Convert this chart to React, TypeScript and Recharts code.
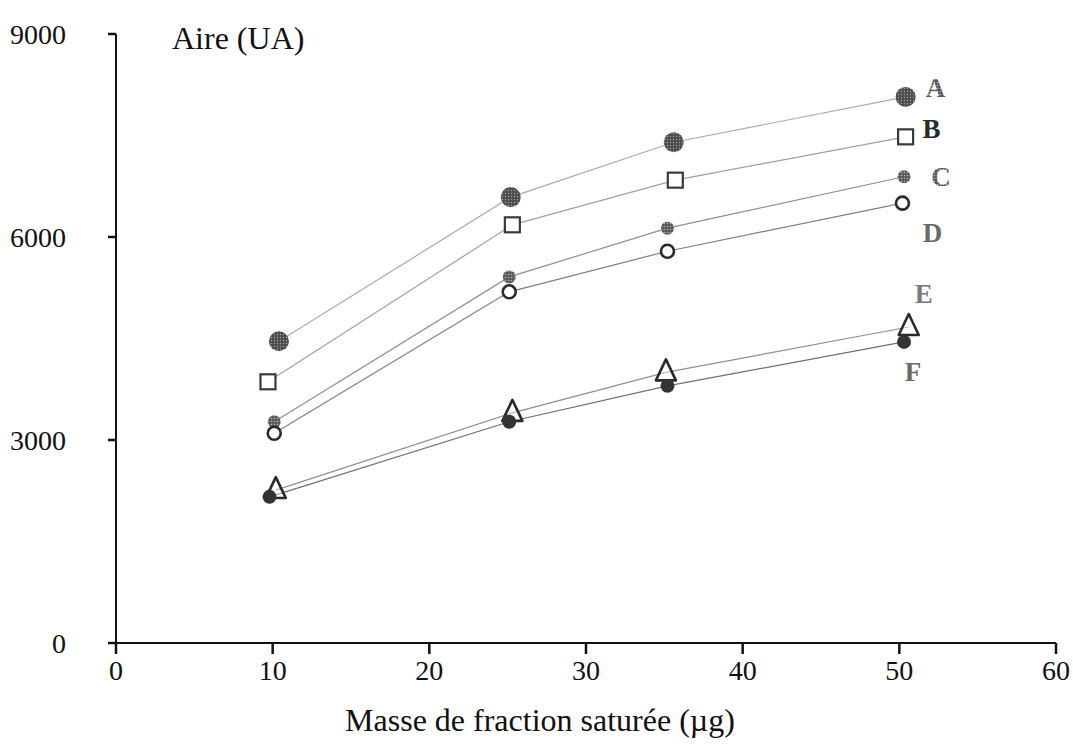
import React from "react";
import { LineChart, Line, XAxis, YAxis } from "recharts";

const xTicks = [0, 10, 20, 30, 40, 50, 60];
const yTicks = [0, 3000, 6000, 9000];

const xA = [10.4, 25.2, 35.6, 50.4];
const yA = [4460, 6590, 7400, 8070];
const xB = [9.7, 25.3, 35.7, 50.4];
const yB = [3860, 6180, 6840, 7480];
const xC = [10.1, 25.1, 35.2, 50.3];
const yC = [3270, 5410, 6130, 6890];
const xD = [10.1, 25.1, 35.2, 50.2];
const yD = [3100, 5190, 5790, 6500];
const xE = [10.2, 25.3, 35.1, 50.6];
const yE = [2260, 3400, 4000, 4670];
const xF = [9.8, 25.1, 35.2, 50.3];
const yF = [2160, 3270, 3800, 4450];

const seriesLetters = ["A", "B", "C", "D", "E", "F"];

const toData = (xs: number[], ys: number[]) => xs.map((x, i) => ({ x, y: ys[i] }));

const FONT = "'Liberation Serif', 'Times New Roman', serif";

type Style = {
  shape: string;
  line: string;
  labelColor: string;
  ldx: number;
  ldy: number;
};

const styles: Style[] = [
  { shape: "bigStipple", line: "#ababab", labelColor: "url(#stipLabel)", ldx: 30, ldy: -9 },
  { shape: "square", line: "#a0a0a0", labelColor: "#2a2a2a", ldx: 26, ldy: -8 },
  { shape: "smallStipple", line: "#909090", labelColor: "url(#stipLabel)", ldx: 37, ldy: 0 },
  { shape: "openCircle", line: "#808080", labelColor: "#6a6a6a", ldx: 30, ldy: 30 },
  { shape: "triangle", line: "#909090", labelColor: "#7a7a7a", ldx: 15, ldy: -33 },
  { shape: "filled", line: "#707070", labelColor: "#6a6a6a", ldx: 9, ldy: 30 },
];

const makeDot = (st: Style, letter: string, n: number) => (props: any) => {
  const { cx, cy, index } = props;
  if (cx == null || cy == null) return <g key={`d${letter}${index}`} />;
  let mark: React.ReactNode = null;
  switch (st.shape) {
    case "bigStipple":
      mark = <circle cx={cx} cy={cy} r={10} fill="url(#stipDark)" />;
      break;
    case "square":
      mark = <rect x={cx - 7.5} y={cy - 7.5} width={15} height={15} fill="#fff" stroke="#3a3a3a" strokeWidth={2.2} />;
      break;
    case "smallStipple":
      mark = <circle cx={cx} cy={cy} r={6.5} fill="url(#stipMid)" />;
      break;
    case "openCircle":
      mark = <circle cx={cx} cy={cy} r={6.5} fill="#fff" stroke="#2a2a2a" strokeWidth={2.6} />;
      break;
    case "triangle":
      mark = (
        <polygon
          points={`${cx},${cy - 13} ${cx - 10},${cy + 8} ${cx + 10},${cy + 8}`}
          fill="#fff"
          fillOpacity={0.4}
          stroke="#2a2a2a"
          strokeWidth={2.6}
          strokeLinejoin="round"
        />
      );
      break;
    default:
      mark = <circle cx={cx} cy={cy} r={7} fill="#333" />;
  }
  return (
    <g key={`d${letter}${index}`}>
      {mark}
      {index === n - 1 ? (
        <text
          x={cx + st.ldx}
          y={cy + st.ldy}
          textAnchor="middle"
          dominantBaseline="central"
          fontFamily={FONT}
          fontWeight="bold"
          fontSize={27}
          fill={st.labelColor}
        >
          {letter}
        </text>
      ) : null}
    </g>
  );
};

const allSeries = [
  toData(xA, yA),
  toData(xB, yB),
  toData(xC, yC),
  toData(xD, yD),
  toData(xE, yE),
  toData(xF, yF),
];

const YTitle = (props: any) => {
  const vb = props.viewBox || { x: 0, y: 0, width: 0 };
  return (
    <text
      x={vb.x + vb.width + 56}
      y={vb.y + 15}
      fontFamily={FONT}
      fontSize={32}
      fill="#111"
    >
      Aire (UA)
    </text>
  );
};

export default function App() {
  return (
    <div style={{ position: "absolute", left: 0, top: 0, background: "#fff" }}>
      <LineChart
        width={1073}
        height={751}
        margin={{ top: 34, right: 17, bottom: 0, left: 0 }}
      >
        <defs>
          <pattern id="stipDark" width="3" height="3" patternUnits="userSpaceOnUse">
            <rect width="3" height="3" fill="#4d4d4d" />
            <circle cx="1.5" cy="1.5" r="0.7" fill="#a0a0a0" />
          </pattern>
          <pattern id="stipMid" width="3" height="3" patternUnits="userSpaceOnUse">
            <rect width="3" height="3" fill="#5a5a5a" />
            <circle cx="1.5" cy="1.5" r="0.8" fill="#b0b0b0" />
          </pattern>
          <pattern id="stipLabel" width="3" height="3" patternUnits="userSpaceOnUse">
            <rect width="3" height="3" fill="#555" />
            <circle cx="1.5" cy="1.5" r="0.8" fill="#bbb" />
          </pattern>
        </defs>
        <XAxis
          type="number"
          dataKey="x"
          domain={[0, 60]}
          ticks={xTicks}
          allowDataOverflow
          height={108}
          tickSize={11}
          tickMargin={6}
          axisLine={{ stroke: "#111", strokeWidth: 2 }}
          tickLine={{ stroke: "#111", strokeWidth: 2.5 }}
          tick={{ fontFamily: FONT, fontSize: 28, fill: "#111" }}
          label={{
            value: "Masse de fraction saturée (µg)",
            position: "insideBottom",
            offset: 20,
            dx: -46,
            style: { fontFamily: FONT, fontSize: 32, fill: "#111" },
          }}
        />
        <YAxis
          type="number"
          dataKey="y"
          domain={[0, 9000]}
          ticks={yTicks}
          allowDataOverflow
          width={116}
          tickSize={8}
          tickMargin={42}
          axisLine={{ stroke: "#111", strokeWidth: 2 }}
          tickLine={{ stroke: "#111", strokeWidth: 2.5 }}
          tick={{ fontFamily: FONT, fontSize: 28, fill: "#111" }}
          label={<YTitle />}
        />
        {allSeries.map((d, i) => (
          <Line
            key={seriesLetters[i]}
            data={d}
            dataKey="y"
            type="linear"
            stroke={styles[i].line}
            strokeWidth={1.2}
            dot={makeDot(styles[i], seriesLetters[i], d.length)}
            activeDot={false}
            isAnimationActive={false}
          />
        ))}
      </LineChart>
    </div>
  );
}
